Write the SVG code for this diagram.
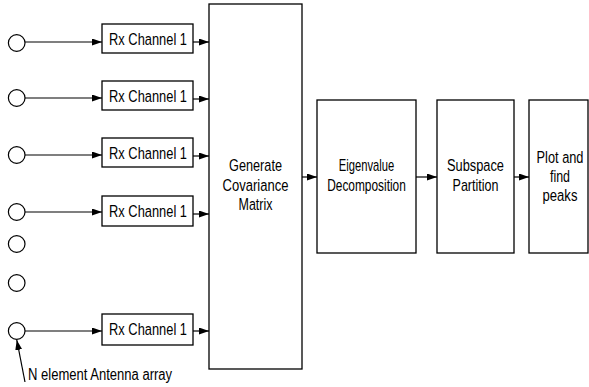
<svg xmlns="http://www.w3.org/2000/svg" width="589" height="387" viewBox="0 0 589 387">
<style>
.box{fill:#fff;stroke:#000;stroke-width:1.3}
.ant{fill:#fff;stroke:#000;stroke-width:1.2}
.ln{stroke:#000;stroke-width:1.2;fill:none}
text{font-family:"Liberation Sans",Arial,sans-serif;font-size:17px;fill:#000;text-anchor:middle}
</style>
<defs>
<marker id="ah" markerWidth="10" markerHeight="7" refX="10" refY="3.5" orient="auto" markerUnits="userSpaceOnUse">
<path d="M0,0 L10,3.5 L0,7 Z" fill="#000"/>
</marker>
</defs>
<g id="antennas">
<circle class="ant" cx="16.7" cy="43" r="8.3"/>
<circle class="ant" cx="16.7" cy="98" r="8.3"/>
<circle class="ant" cx="16.7" cy="155" r="8.3"/>
<circle class="ant" cx="16.7" cy="212" r="8.3"/>
<circle class="ant" cx="16.7" cy="244" r="8.3"/>
<circle class="ant" cx="16.7" cy="283" r="8.3"/>
<circle class="ant" cx="16.7" cy="331" r="8.3"/>
</g>
<g id="rx1"><rect class="box" x="102" y="24" width="91" height="29"/><text transform="translate(148,45) scale(0.757,1)">Rx Channel 1</text></g>
<g id="rx2"><rect class="box" x="102" y="81" width="91" height="29"/><text transform="translate(148,102) scale(0.757,1)">Rx Channel 1</text></g>
<g id="rx3"><rect class="box" x="102" y="138" width="91" height="29"/><text transform="translate(148,159) scale(0.757,1)">Rx Channel 1</text></g>
<g id="rx4"><rect class="box" x="102" y="196" width="91" height="30"/><text transform="translate(148,217) scale(0.757,1)">Rx Channel 1</text></g>
<g id="rx5"><rect class="box" x="102" y="314" width="91" height="31"/><text transform="translate(148,335) scale(0.757,1)">Rx Channel 1</text></g>
<g id="covariance"><rect class="box" x="209" y="4" width="93" height="365"/>
<text transform="translate(255.5,171) scale(0.748,1)">Generate</text>
<text transform="translate(255.5,191) scale(0.767,1)">Covariance</text>
<text transform="translate(255.5,210) scale(0.735,1)">Matrix</text></g>
<g id="eigen"><rect class="box" x="317" y="100" width="99" height="153"/>
<text transform="translate(366.5,171) scale(0.66,1)">Eigenvalue</text>
<text transform="translate(366.5,191) scale(0.70,1)">Decomposition</text></g>
<g id="subspace"><rect class="box" x="437" y="100" width="77" height="153"/>
<text transform="translate(475.5,171) scale(0.754,1)">Subspace</text>
<text transform="translate(475.5,191) scale(0.737,1)">Partition</text></g>
<g id="plot"><rect class="box" x="529" y="100" width="59" height="153"/>
<text transform="translate(560,163) scale(0.753,1)">Plot and</text>
<text transform="translate(560,182) scale(0.73,1)">find</text>
<text transform="translate(560,201) scale(0.77,1)">peaks</text></g>
<g id="label"><text transform="translate(28,380) scale(0.815,1)" style="text-anchor:start;font-size:16px">N element Antenna array</text></g>
<g id="connectors">
<line class="ln" x1="25" y1="42" x2="102" y2="42" marker-end="url(#ah)"/>
<line class="ln" x1="25" y1="98" x2="102" y2="98" marker-end="url(#ah)"/>
<line class="ln" x1="25" y1="155" x2="102" y2="155" marker-end="url(#ah)"/>
<line class="ln" x1="25" y1="212" x2="102" y2="212" marker-end="url(#ah)"/>
<line class="ln" x1="25" y1="331" x2="102" y2="331" marker-end="url(#ah)"/>
<line class="ln" x1="193" y1="42" x2="209" y2="42" marker-end="url(#ah)"/>
<line class="ln" x1="193" y1="99" x2="209" y2="99" marker-end="url(#ah)"/>
<line class="ln" x1="193" y1="156" x2="209" y2="156" marker-end="url(#ah)"/>
<line class="ln" x1="193" y1="214" x2="209" y2="214" marker-end="url(#ah)"/>
<line class="ln" x1="193" y1="331" x2="209" y2="331" marker-end="url(#ah)"/>
<line class="ln" x1="302" y1="177" x2="317" y2="177" marker-end="url(#ah)"/>
<line class="ln" x1="416" y1="177" x2="437" y2="177" marker-end="url(#ah)"/>
<line class="ln" x1="514" y1="177" x2="529" y2="177" marker-end="url(#ah)"/>
<line class="ln" x1="25" y1="382" x2="16.8" y2="340" marker-end="url(#ah)"/>
</g>
</svg>
